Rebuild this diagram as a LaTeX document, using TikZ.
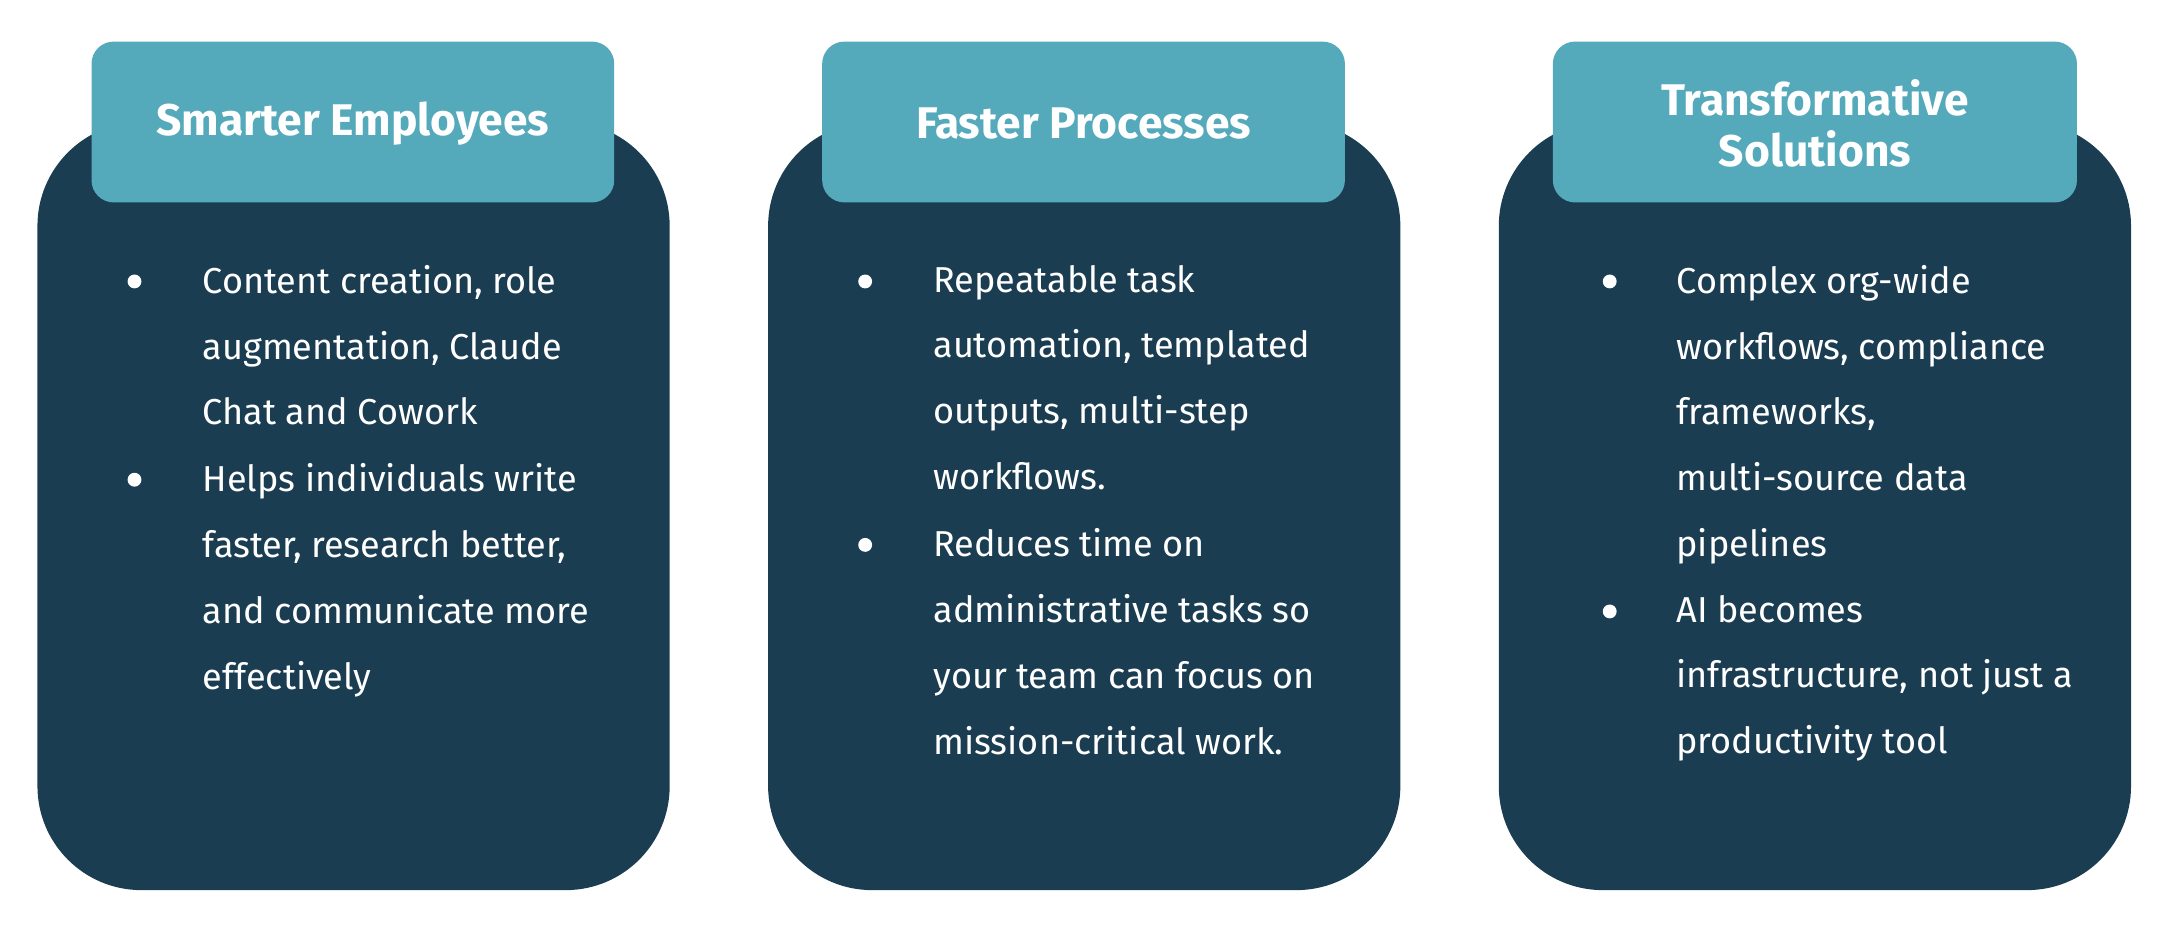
\documentclass[tikz,border=0pt]{standalone}
\usepackage{fontspec}
\setmainfont{Fira Sans}
\definecolor{cardblue}{HTML}{1B3D52}
\definecolor{headteal}{HTML}{54A9BB}
\tikzset{
  card/.style={fill=cardblue, rounded corners=75pt},
  head/.style={fill=headteal, rounded corners=16pt},
  headtext/.style={text=white, font=\fontsize{32}{37}\selectfont\bfseries, align=center},
  itemtext/.style={text=white, font=\fontsize{26}{47.5}\selectfont, align=left, anchor=north west, inner sep=0pt},
  dot/.style={circle, fill=white, inner sep=0pt, minimum size=10pt}
}
\begin{document}
\begin{tikzpicture}[x=1pt,y=1pt,yscale=-1]
\useasboundingbox (0,0) rectangle (1568,671);

%Cards
\fill [card] (27,88) rectangle (483,642);
\fill [card] (554,88) rectangle (1010,642);
\fill [card] (1081,88) rectangle (1537,642);
%Headers
\fill [head] (66,30) rectangle (443,146);
\fill [head] (593,30) rectangle (970,146);
\fill [head] (1120,30) rectangle (1498,146);

% Header texts
\node (headA) [headtext] at (254.5,89) {Smarter Employees};
\node (headB) [headtext] at (781.5,89) {Faster Processes};
\node (headC) [headtext] at (1309,89) {Transformative\\Solutions};

% Column 1
\node (dotA1) [dot] at (97,203) {};
\node (itemA1) [itemtext] at (146,191) {Content creation, role\\augmentation, Claude\\Chat and Cowork};
\node (dotA2) [dot] at (97,346) {};
\node (itemA2) [itemtext] at (146,334) {Helps individuals write\\faster, research better,\\and communicate more\\effectively};

% Column 2
\node (dotB1) [dot] at (624,203) {};
\node (itemB1) [itemtext] at (673,191) {Repeatable task\\automation, templated\\outputs, multi-step\\workflows.};
\node (dotB2) [dot] at (624,393) {};
\node (itemB2) [itemtext] at (673,381) {Reduces time on\\administrative tasks so\\your team can focus on\\mission-critical work.};

% Column 3
\node (dotC1) [dot] at (1161,203) {};
\node (itemC1) [itemtext] at (1209,191) {Complex org-wide\\workflows, compliance\\frameworks,\\multi-source data\\pipelines};
\node (dotC2) [dot] at (1161,441) {};
\node (itemC2) [itemtext] at (1209,429) {AI becomes\\infrastructure, not just a\\productivity tool};

\end{tikzpicture}
\end{document}
